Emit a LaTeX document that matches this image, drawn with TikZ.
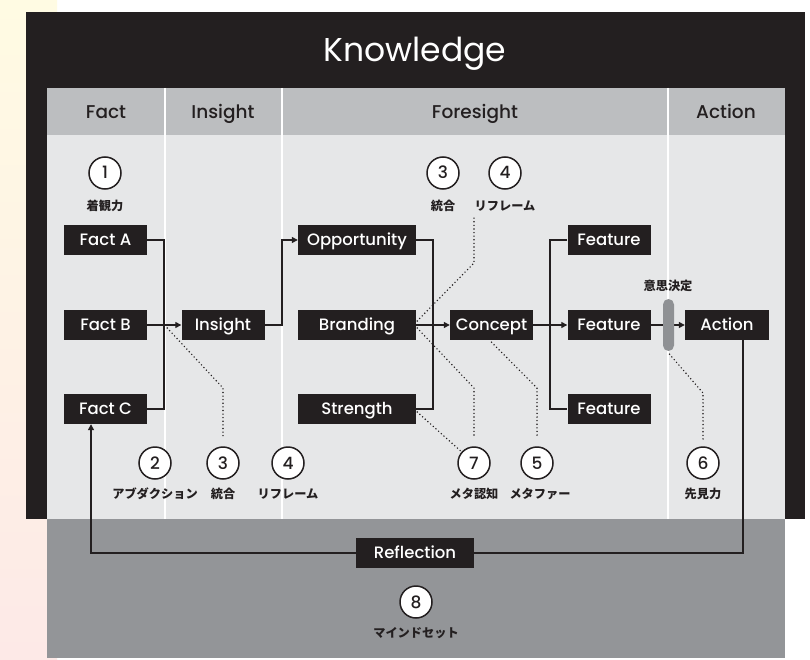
\documentclass[tikz,border=0pt]{standalone}
\usepackage{fontspec}
\setmainfont{Poppins}
\newfontfamily\medfont{Poppins Medium}
\newfontfamily\jpfont{Noto Sans CJK JP}
\usetikzlibrary{arrows.meta,calc}
\definecolor{kblack}{HTML}{231F20}
\definecolor{hdrgray}{HTML}{BCBEC0}
\definecolor{bodygray}{HTML}{E6E7E8}
\definecolor{dgray}{HTML}{939598}
\definecolor{pillgray}{HTML}{8F9194}
\definecolor{stripTop}{HTML}{FFFBE3}
\definecolor{stripBot}{HTML}{FDE9E7}
\tikzset{
  box/.style={fill=kblack, text=white, minimum width=83pt, minimum height=30pt, inner sep=0pt, text height=11.6pt, text depth=0pt, font=\medfont\fontsize{16.5}{18}\selectfont},
  widebox/.style={box, minimum width=118pt},
  numc/.style={circle, draw=kblack, line width=1.5pt, fill=white, minimum size=32pt, inner sep=0pt, text height=12pt, text depth=0pt, font=\medfont\fontsize{17}{18}\selectfont, text=kblack},
  jlab/.style={font=\jpfont\bfseries\fontsize{12.2}{13}\selectfont, text=kblack, inner sep=0pt},
  hdr/.style={font=\medfont\fontsize{18.5}{20}\selectfont, text=kblack, inner sep=0pt, text height=13pt, text depth=0pt},
  conn/.style={draw=kblack, line width=1.3pt},
  arr/.style={conn, -{Triangle[length=6pt,width=6pt]}},
  dots/.style={draw=kblack, line width=1.6pt, line cap=round, dash pattern=on 0pt off 3.6pt},
  sep/.style={draw=white, line width=1.5pt}
}
\begin{document}
\begin{tikzpicture}[x=1pt,y=-1pt]
\useasboundingbox (0,0) rectangle (810,660);
\fill[white] (0,0) rectangle (810,660);
\shade[top color=stripTop, bottom color=stripBot] (0,0) rectangle (57,660);
% frames
\fill[kblack] (26,12) rectangle (805,519);
\fill[hdrgray] (47,88) rectangle (785,135);
\fill[bodygray] (47,135) rectangle (785,519);
\fill[dgray] (47,519) rectangle (785,658);
\foreach \x in {165,282,668} \draw[sep] (\x,88) -- (\x,519);
\node[font=\fontsize{33}{36}\selectfont, text=white, inner sep=0pt, text height=23pt, text depth=0pt] (title) at (415,50) {Knowledge};
\node[hdr] (hfact) at (106,112) {Fact};
\node[hdr] (hins) at (223,112) {Insight};
\node[hdr] (hfore) at (475,112) {Foresight};
\node[hdr] (hact) at (726,112) {Action};
% junction coordinates
\coordinate (j1) at (164,325);
\coordinate (j2) at (282,290);
\coordinate (j3) at (433,325);
\coordinate (j4) at (550,325);
\coordinate (r1) at (743,553);
\coordinate (r2) at (91,553);
% boxes
\node[box] (FactA) at (105.5,240) {Fact A};
\node[box] (FactB) at (105.5,325) {Fact B};
\node[box] (FactC) at (105.5,409) {Fact C};
\node[box] (Insight) at (223,325) {Insight};
\node[widebox] (Opp) at (357,240) {Opportunity};
\node[widebox] (Brand) at (357,325) {Branding};
\node[widebox] (Strength) at (357,409) {Strength};
\node[box] (Concept) at (491.5,325) {Concept};
\node[box] (Feat1) at (609,240) {Feature};
\node[box] (Feat2) at (609,325) {Feature};
\node[box] (Feat3) at (609,409) {Feature};
\node[box, minimum width=84pt] (Action) at (727,325) {Action};
\node[widebox] (Refl) at (415,553) {Reflection};
% circles and labels
\node[numc] (c1) at (105,173) {1};
\node[jlab] (l1) at (105,206) {着観力};
\node[numc] (c3t) at (443,173) {3};
\node[jlab] (l3t) at (443,206) {統合};
\node[numc] (c4t) at (505,173) {4};
\node[jlab] (l4t) at (505,206) {リフレーム};
\node[numc] (c2) at (155,463) {2};
\node[jlab] (l2) at (155,494) {アブダクション};
\node[numc] (c3b) at (223,463) {3};
\node[jlab] (l3b) at (223,494) {統合};
\node[numc] (c4b) at (288,463) {4};
\node[jlab] (l4b) at (288,494) {リフレーム};
\node[numc] (c7) at (474,463) {7};
\node[jlab] (l7) at (474,494) {メタ認知};
\node[numc] (c5) at (537,463) {5};
\node[jlab] (l5) at (540,494) {メタファー};
\node[numc] (c6) at (703,463) {6};
\node[jlab] (l6) at (703,494) {先見力};
\node[numc] (c8) at (416,602) {8};
\node[jlab] (l8) at (416,633) {マインドセット};
\node[jlab] (ldec) at (668,286) {意思決定};
% connectors
\draw[conn] (FactA.east) -| (j1) |- (FactC.east);
\draw[arr] (FactB.east) -- (Insight.west);
\draw[arr] (Insight.east) -| (j2) |- (Opp.west);
\draw[conn] (Opp.east) -| (j3) |- (Strength.east);
\draw[arr] (Brand.east) -- (Concept.west);
\draw[arr] (Concept.east) -- (Feat2.west);
\draw[conn] (Feat1.west) -| (j4) |- (Feat3.west);
\draw[arr] (Feat2.east) -- (Action.west);
\draw[conn] (Action.south -| r1) -- (r1) -- (Refl.east);
\draw[arr] (Refl.west) -- (r2) -- (r2 |- FactC.south);
\node[fill=pillgray, minimum width=11pt, minimum height=52pt, inner sep=0pt, rounded corners=5.5pt] (Pill) at (668.5,325) {};
% dotted
\coordinate (e4) at (474,218);
\draw[dots] ($(FactB.east)+(20,3)$) -- (223,388) -- ($(c3b.north)+(0,-9)$);
\draw[dots] ($(Brand.east)+(1,-4)$) -- (474,263) -- (e4);
\draw[dots] ($(Brand.east)+(1,3)$) -- (474,388) -- ($(c7.north)+(0,-9)$);
\draw[dots] ($(Concept.south)+(0,2)$) -- (537,388) -- ($(c5.north)+(0,-9)$);
\draw[dots] ($(Strength.east)+(1,3)$) -- (c7);
\draw[dots] ($(Pill.south)+(1,3)$) -- (703,393) -- ($(c6.north)+(0,-7)$);
\end{tikzpicture}
\end{document}
